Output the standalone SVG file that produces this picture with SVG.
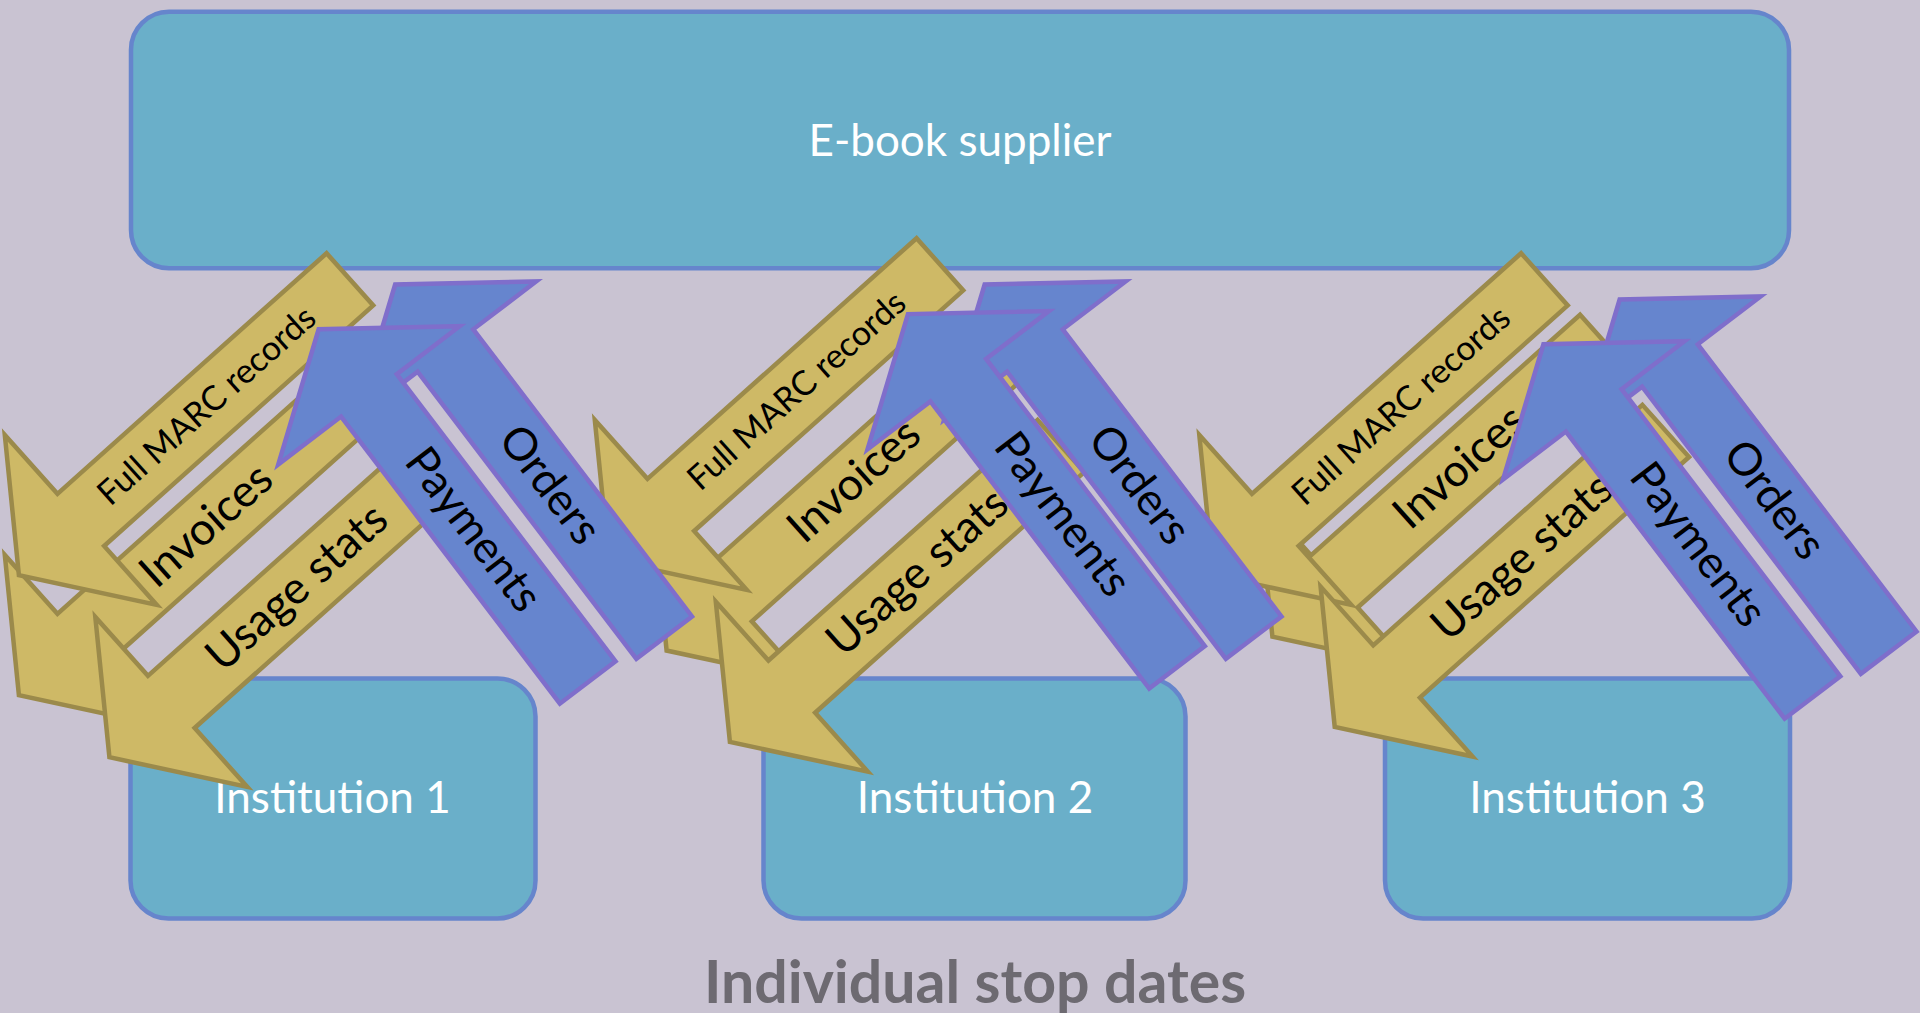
<svg xmlns="http://www.w3.org/2000/svg" xmlns:xlink="http://www.w3.org/1999/xlink" width="1920" height="1013" viewBox="0 0 1920 1013">
<defs>
<style>
.box{fill:#6AAFC9;stroke:#6685CC;stroke-width:4.5}
.btxt{font-family:Lato,"Open Sans",sans-serif;font-size:44px;fill:#FFFFFF;text-anchor:middle}
.ya{fill:#CEB966;stroke:#9B8A4B;stroke-width:4.5;stroke-linejoin:miter;stroke-miterlimit:10}
.ba{fill:#6685CE;stroke:#7F6ECB;stroke-width:4.5;stroke-linejoin:miter;stroke-miterlimit:10}
.at{font-family:Lato,"Open Sans",sans-serif;font-size:45px;fill:#000000;text-anchor:middle}
.sm{font-size:34px}
.cap{font-family:Lato,"Open Sans",sans-serif;font-weight:bold;font-size:59px;fill:#6D6A71;text-anchor:middle}
</style>
<path id="arr" d="M0,-35H361V-114L444,0L361,114V35H0Z"/>
</defs>
<rect x="0" y="0" width="1920" height="1013" fill="#C9C3D2"/>

<g id="supplier">
<rect class="box" x="131" y="11.7" width="1658" height="256.6" rx="38" ry="38"/>
<text class="btxt" x="960" y="156">E-book supplier</text>
</g>
<g id="institution1">
<rect class="box" x="130.5" y="678.5" width="405" height="240" rx="38" ry="38"/>
<text class="btxt" x="332.5" y="813">Institution 1</text>
</g>
<g id="institution2">
<rect class="box" x="763.5" y="678.5" width="422" height="240" rx="38" ry="38"/>
<text class="btxt" x="975" y="813">Institution 2</text>
</g>
<g id="institution3">
<rect class="box" x="1385" y="678.5" width="405" height="240" rx="38" ry="38"/>
<text class="btxt" x="1587.5" y="813">Institution 3</text>
</g>

<g id="connectors">
<g id="invoices1" transform="translate(349.9,399.3) rotate(138.2)"><use xlink:href="#arr" class="ya"/><text class="at" transform="translate(191,0) rotate(180)" y="13">Invoices</text></g>
<g id="marc1" transform="translate(349.9,279.3) rotate(138.2)"><use xlink:href="#arr" class="ya"/><text class="at sm" transform="translate(191,0) rotate(180)" y="10">Full MARC records</text></g>
<g id="usage1" transform="translate(440.4,461.3) rotate(138.2)"><use xlink:href="#arr" class="ya"/><text class="at" transform="translate(191,0) rotate(180)" y="13">Usage stats</text></g>

<g id="invoices2" transform="translate(997.6,354.6) rotate(138.2)"><use xlink:href="#arr" class="ya"/><text class="at" transform="translate(191,0) rotate(180)" y="13">Invoices</text></g>
<g id="marc2" transform="translate(939.9,264.3) rotate(138.2)"><use xlink:href="#arr" class="ya"/><text class="at sm" transform="translate(191,0) rotate(180)" y="10">Full MARC records</text></g>
<g id="usage2" transform="translate(1060.9,446) rotate(138.2)"><use xlink:href="#arr" class="ya"/><text class="at" transform="translate(191,0) rotate(180)" y="13">Usage stats</text></g>

<g id="invoices3" transform="translate(1603.4,340.8) rotate(138.2)"><use xlink:href="#arr" class="ya"/><text class="at" transform="translate(191,0) rotate(180)" y="13">Invoices</text></g>
<g id="marc3" transform="translate(1544.4,279.3) rotate(138.2)"><use xlink:href="#arr" class="ya"/><text class="at sm" transform="translate(191,0) rotate(180)" y="10">Full MARC records</text></g>
<g id="usage3" transform="translate(1665.7,430.9) rotate(138.2)"><use xlink:href="#arr" class="ya"/><text class="at" transform="translate(191,0) rotate(180)" y="13">Usage stats</text></g>

<g id="orders1" transform="translate(664.2,637.7) rotate(-127.3)"><use xlink:href="#arr" class="ba"/><text class="at" transform="translate(191,0) rotate(180)" y="13">Orders</text></g>
<g id="payments1" transform="translate(587.7,682.5) rotate(-127.3)"><use xlink:href="#arr" class="ba"/><text class="at" transform="translate(191,0) rotate(180)" y="13">Payments</text></g>

<g id="orders2" transform="translate(1253.7,637.7) rotate(-127.3)"><use xlink:href="#arr" class="ba"/><text class="at" transform="translate(191,0) rotate(180)" y="13">Orders</text></g>
<g id="payments2" transform="translate(1177,667.3) rotate(-127.3)"><use xlink:href="#arr" class="ba"/><text class="at" transform="translate(191,0) rotate(180)" y="13">Payments</text></g>

<g id="orders3" transform="translate(1888.7,652.7) rotate(-127.3)"><use xlink:href="#arr" class="ba"/><text class="at" transform="translate(191,0) rotate(180)" y="13">Orders</text></g>
<g id="payments3" transform="translate(1812.5,697.5) rotate(-127.3)"><use xlink:href="#arr" class="ba"/><text class="at" transform="translate(191,0) rotate(180)" y="13">Payments</text></g>
</g>

<text class="cap" x="975" y="1003">Individual stop dates</text>
</svg>
